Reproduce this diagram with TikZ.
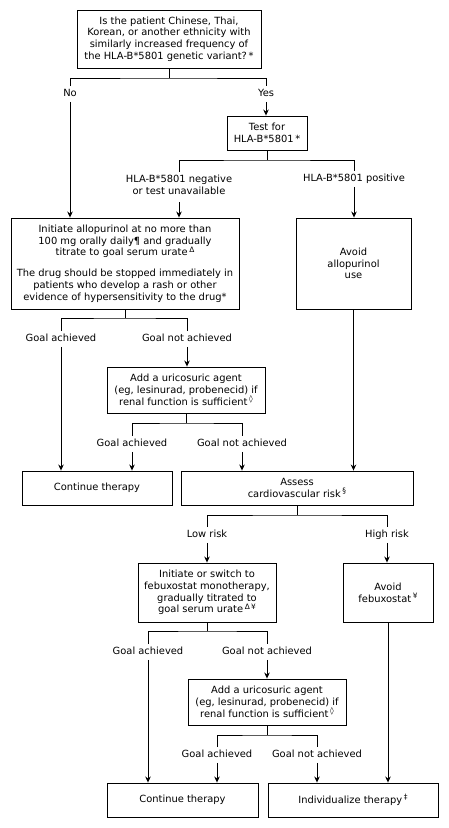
\documentclass[tikz,border=0pt]{standalone}
\usepackage{fontspec}
\setmainfont{DejaVu Sans}
\usetikzlibrary{arrows.meta}
\newcommand{\sps}[1]{\,\raisebox{3.6pt}{\fontsize{7.4}{8}\selectfont #1}}
\begin{document}
\begin{tikzpicture}[x=1pt,y=-1pt,
  every node/.style={font=\fontsize{9.9}{11.8}\selectfont},
  box/.style={draw, line width=0.9pt, align=center, inner sep=0pt},
  lbl/.style={align=center, inner sep=0pt, outer sep=3pt, text height=7.4pt, text depth=2.4pt},
  lbltwo/.style={align=center, inner sep=0pt, outer sep=3pt},
  ln/.style={line width=0.9pt},
  arr/.style={ln, -{Stealth[length=6pt,width=5.5pt]}}]
\useasboundingbox (0,0) rectangle (448,828);
% boxes
\node[box, minimum width=184pt, minimum height=58pt] (q1) at (169,39)
  {Is the patient Chinese, Thai,\\Korean, or another ethnicity with\\similarly increased frequency of\\the HLA-B*5801 genetic variant?\,*};
\node[box, minimum width=80pt, minimum height=34pt] (test) at (267,133)
  {Test for\\HLA-B*5801\,*};
\node[box, minimum width=228pt, minimum height=91pt] (init) at (125,263.5)
  {Initiate allopurinol at no more than\\100 mg orally daily¶ and gradually\\titrate to goal serum urate\sps{Δ}\\[9pt]The drug should be stopped immediately in\\patients who develop a rash or other\\evidence of hypersensitivity to the drug*};
\node[box, minimum width=115pt, minimum height=91pt] (avoidA) at (353.5,263.5)
  {Avoid\\allopurinol\\use};
\node[box, minimum width=158pt, minimum height=46pt] (add1) at (186,390)
  {Add a uricosuric agent\\(eg, lesinurad, probenecid) if\\renal function is sufficient\sps{◊}};
\node[box, minimum width=150pt, minimum height=34pt] (cont1) at (97,488)
  {Continue therapy};
\node[box, minimum width=232pt, minimum height=34pt] (assess) at (297,488)
  {Assess\\cardiovascular risk\sps{§}};
\node[box, minimum width=138pt, minimum height=59pt] (feb) at (207,592.5)
  {Initiate or switch to\\febuxostat monotherapy,\\gradually titrated to\\goal serum urate\sps{Δ\,¥}};
\node[box, minimum width=90pt, minimum height=59pt] (avoidF) at (388,592.5)
  {Avoid\\febuxostat\sps{¥}};
\node[box, minimum width=158pt, minimum height=46pt] (add2) at (267,702)
  {Add a uricosuric agent\\(eg, lesinurad, probenecid) if\\renal function is sufficient\sps{◊}};
\node[box, minimum width=151pt, minimum height=34pt] (cont2) at (182.5,800)
  {Continue therapy};
\node[box, minimum width=170pt, minimum height=34pt] (indiv) at (353,800)
  {Individualize therapy\sps{‡}};
% labels
\node[lbl] (no) at (70,94) {No};
\node[lbl] (yes) at (266,94) {Yes};
\node[lbltwo] (neg) at (179,184.5) {HLA-B*5801 negative\\or test unavailable};
\node[lbl] (pos) at (354,179) {HLA-B*5801 positive};
\node[lbl] (ga1) at (61,339) {Goal achieved};
\node[lbl] (gna1) at (187,339) {Goal not achieved};
\node[lbl] (ga2) at (132,444) {Goal achieved};
\node[lbl] (gna2) at (242,444) {Goal not achieved};
\node[lbl] (low) at (207,535) {Low risk};
\node[lbl] (high) at (387,535) {High risk};
\node[lbl] (ga3) at (148,652) {Goal achieved};
\node[lbl] (gna3) at (267,652) {Goal not achieved};
\node[lbl] (ga4) at (217,755) {Goal achieved};
\node[lbl] (gna4) at (317,755) {Goal not achieved};
% junctions
\coordinate (j1) at (169,78);
\coordinate (j2) at (267,160);
\coordinate (j3) at (125,318);
\coordinate (j4) at (186,423);
\coordinate (j5) at (297,515);
\coordinate (j6) at (207,631);
\coordinate (j7) at (267,735);
% connectors
\draw[ln] (q1.south) -- (j1);
\draw[ln] (no.north) |- (j1) -| (yes.north);
\draw[arr] (no.south) -- (no.south |- init.north);
\draw[arr] (yes.south) -- (yes.south |- test.north);
\draw[ln] (test.south) -- (j2);
\draw[ln] (neg.north) |- (j2) -| (pos.north);
\draw[arr] (neg.south) ++(0,5) -- (neg.south |- init.north);
\draw[arr] (pos.south) -- (pos.south |- avoidA.north);
\draw[ln] (init.south) -- (j3);
\draw[ln] (ga1.north) |- (j3) -| (gna1.north);
\draw[arr] (ga1.south) -- (ga1.south |- cont1.north);
\draw[arr] (gna1.south) -- (gna1.south |- add1.north);
\draw[ln] (add1.south) -- (j4);
\draw[ln] (ga2.north) |- (j4) -| (gna2.north);
\draw[arr] (ga2.south) -- (ga2.south |- cont1.north);
\draw[arr] (gna2.south) -- (gna2.south |- assess.north);
\draw[arr] (avoidA.south) -- (avoidA.south |- assess.north);
\draw[ln] (assess.south) -- (j5);
\draw[ln] (low.north) |- (j5) -| (high.north);
\draw[arr] (low.south) -- (low.south |- feb.north);
\draw[arr] (high.south) -- (high.south |- avoidF.north);
\draw[ln] (feb.south) -- (j6);
\draw[ln] (ga3.north) |- (j6) -| (gna3.north);
\draw[arr] (ga3.south) -- (ga3.south |- cont2.north);
\draw[arr] (gna3.south) -- (gna3.south |- add2.north);
\draw[ln] (add2.south) -- (j7);
\draw[ln] (ga4.north) |- (j7) -| (gna4.north);
\draw[arr] (ga4.south) -- (ga4.south |- cont2.north);
\draw[arr] (gna4.south) -- (gna4.south |- indiv.north);
\draw[arr] (avoidF.south) -- (avoidF.south |- indiv.north);
\end{tikzpicture}
\end{document}
